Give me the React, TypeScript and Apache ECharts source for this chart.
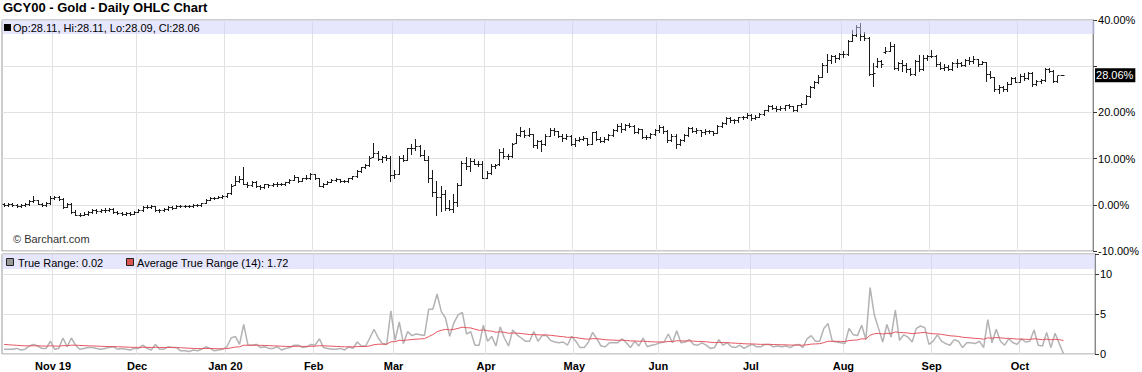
import React, { useEffect, useRef } from "react";
import * as echarts from "echarts";

// Daily OHLC, % change from first close: [open, high, low, close]
const oct2019 = [
  [0.1, 0.4, -0.2, 0.0], [0.0, 0.4, -0.2, 0.1], [0.1, 0.3, -0.3, 0.0], [0.0, 0.2, -0.5, -0.3],
  [-0.3, 0.1, -0.4, -0.1], [-0.1, 0.3, -0.3, 0.1], [0.1, 1.0, 0.0, 0.8], [0.8, 1.9, 0.7, 1.0],
  [1.0, 1.1, 0.1, 0.2], [0.2, 0.4, -0.3, -0.1], [-0.1, 0.5, -0.2, 0.3], [0.3, 1.8, 0.2, 1.5],
];
const nov2019 = [
  [1.5, 1.8, 1.2, 1.6], [1.6, 1.8, 1.1, 1.3], [1.3, 1.4, -0.6, -0.4], [-0.4, 0.4, -0.5, 0.1],
  [0.1, 0.3, -1.7, -1.5], [-1.5, -1.2, -2.3, -2.1], [-2.1, -1.8, -2.4, -2.2], [-2.2, -1.6, -2.3, -2.0],
  [-2.0, -1.3, -2.1, -1.6], [-1.6, -1.0, -1.8, -1.2], [-1.2, -1.0, -1.7, -1.4], [-1.4, -0.9, -1.5, -1.1],
  [-1.1, -0.8, -1.5, -1.2], [-1.2, -0.6, -1.4, -0.9], [-0.9, -0.8, -1.7, -1.5], [-1.5, -1.3, -1.9, -1.7],
  [-1.7, -1.5, -2.2, -2.0], [-2.0, -1.5, -2.1, -1.7], [-1.7, -1.6, -2.1, -2.0], [-2.0, -1.3, -2.0, -1.5],
];
const dec2019 = [
  [-1.5, -0.9, -1.6, -1.2], [-1.2, -0.2, -1.3, -0.4], [-0.4, -0.1, -0.8, -0.5], [-0.5, -0.1, -0.6, -0.3],
  [-0.3, -0.2, -1.4, -1.2], [-1.2, -0.9, -1.5, -1.2], [-1.2, -0.8, -1.4, -1.0], [-1.0, -0.3, -1.2, -0.4],
  [-0.4, -0.2, -1.0, -0.7], [-0.7, 0.0, -0.8, -0.2], [-0.2, 0.0, -0.4, -0.2], [-0.2, 0.0, -0.4, -0.2],
  [-0.2, -0.1, -0.4, -0.3], [-0.3, 0.1, -0.4, 0.0], [0.0, 0.1, -0.3, -0.1], [-0.1, 0.4, -0.2, 0.3],
  [0.3, 1.2, 0.3, 1.1], [1.1, 1.7, 1.0, 1.5], [1.5, 1.7, 1.3, 1.5], [1.5, 1.9, 1.4, 1.7], [1.7, 2.1, 1.5, 1.8],
];
const jan2020 = [
  [1.8, 2.6, 1.7, 2.5], [2.5, 4.4, 2.4, 4.1], [4.2, 6.3, 4.2, 5.1], [5.1, 6.2, 5.0, 5.6],
  [5.6, 8.1, 4.4, 4.6], [4.6, 5.0, 3.9, 4.2], [4.2, 5.1, 4.0, 4.9], [4.9, 5.1, 3.9, 4.0],
  [4.0, 4.3, 3.5, 3.8], [3.8, 4.6, 3.7, 4.4], [4.4, 4.6, 3.9, 4.2], [4.2, 4.7, 4.0, 4.5],
  [4.5, 4.9, 4.0, 4.6], [4.6, 4.8, 4.3, 4.5], [4.5, 5.0, 4.3, 4.9], [4.9, 5.6, 4.8, 5.4],
  [5.4, 6.4, 5.3, 6.0], [6.0, 6.1, 5.0, 5.2], [5.2, 5.9, 5.1, 5.8], [5.8, 6.4, 5.5, 5.7], [5.7, 6.8, 5.6, 6.6],
];
const feb2020 = [
  [6.6, 6.7, 5.6, 5.8], [5.8, 5.9, 4.0, 4.1], [4.1, 4.7, 3.9, 4.5], [4.5, 5.1, 4.4, 5.0],
  [5.0, 5.5, 4.9, 5.4], [5.4, 5.8, 5.2, 5.5], [5.5, 5.6, 4.9, 5.1], [5.1, 5.4, 4.9, 5.1],
  [5.1, 5.9, 5.0, 5.8], [5.8, 6.3, 5.6, 6.2], [6.2, 7.6, 6.1, 7.4], [7.4, 8.2, 7.2, 8.1],
  [8.1, 8.9, 7.9, 8.6], [8.6, 10.5, 8.5, 10.2], [10.4, 13.3, 10.4, 11.3], [11.3, 11.6, 9.6, 9.9],
  [9.9, 10.6, 9.3, 10.3], [10.3, 10.8, 9.6, 10.2], [10.2, 10.5, 5.1, 6.4],
];
const mar2020 = [
  [6.4, 7.6, 5.9, 6.7], [6.7, 10.6, 6.6, 10.2], [10.2, 10.7, 9.4, 9.8], [9.8, 12.4, 9.6, 12.2],
  [12.2, 13.2, 10.9, 12.3], [12.3, 14.3, 11.8, 12.8], [12.8, 13.0, 10.6, 10.7], [10.7, 11.9, 9.6, 9.8],
  [9.8, 10.5, 4.9, 5.9], [5.9, 7.5, 1.9, 2.7], [2.7, 5.2, -2.3, 1.6], [1.6, 4.0, -1.3, 2.4],
  [2.4, 3.3, -1.2, -0.8], [-0.8, 1.1, -1.1, -0.9], [-0.9, 2.3, -1.6, 0.5], [0.5, 4.7, -0.2, 4.2],
  [4.2, 9.4, 4.2, 9.1], [9.1, 10.3, 7.8, 8.3], [8.3, 10.1, 7.3, 9.5], [9.5, 9.9, 8.8, 8.8],
  [8.8, 9.4, 8.3, 8.9], [8.9, 9.4, 5.8, 5.9],
];
const apr2020 = [
  [5.9, 7.3, 5.7, 6.8], [6.8, 8.8, 6.6, 8.3], [8.3, 8.9, 7.9, 8.6], [8.9, 12.0, 8.7, 11.5],
  [11.5, 12.2, 10.2, 10.5], [10.5, 11.0, 10.0, 10.6], [10.6, 13.4, 10.4, 13.1], [13.4, 15.5, 13.3, 15.1],
  [15.1, 16.9, 14.9, 15.9], [15.9, 16.2, 14.6, 15.2], [15.2, 16.6, 15.0, 15.3], [15.3, 15.4, 12.6, 13.0],
  [13.0, 14.0, 12.4, 13.8], [13.8, 14.0, 11.7, 13.1], [13.1, 15.3, 13.0, 15.0], [15.0, 16.6, 14.9, 16.1],
  [16.1, 16.6, 15.1, 15.9], [15.9, 16.0, 14.6, 15.0], [15.0, 15.4, 13.9, 14.5], [14.5, 15.3, 14.2, 15.0],
  [15.0, 15.2, 13.0, 13.2],
];
const may2020 = [
  [13.2, 14.4, 12.8, 14.1], [14.1, 14.6, 13.8, 14.3], [14.3, 14.8, 14.0, 14.4], [14.4, 14.5, 13.0, 13.2],
  [13.2, 15.8, 13.1, 15.7], [15.7, 15.9, 14.0, 14.2], [14.2, 14.6, 13.6, 13.9], [13.9, 14.6, 13.7, 14.2],
  [14.2, 15.4, 14.0, 15.2], [15.2, 16.4, 15.0, 16.2], [16.2, 17.4, 16.0, 17.0], [17.0, 17.6, 15.7, 16.3],
  [16.3, 17.5, 16.1, 17.2], [17.2, 17.6, 16.8, 17.1], [17.1, 17.2, 15.6, 15.8], [15.8, 16.6, 15.6, 16.4],
  [16.4, 16.5, 14.5, 14.7], [14.7, 15.1, 14.2, 14.6], [14.6, 15.6, 14.5, 15.3], [15.3, 16.3, 15.1, 16.1],
];
const jun2020 = [
  [16.1, 17.2, 15.8, 16.8], [16.8, 17.0, 15.5, 15.9], [15.9, 16.1, 13.6, 14.1], [14.1, 15.3, 13.9, 15.0],
  [15.0, 15.3, 12.4, 13.1], [13.1, 14.3, 12.9, 14.0], [14.0, 15.4, 13.9, 15.2], [15.2, 16.8, 15.0, 16.6],
  [16.6, 16.9, 15.7, 16.0], [16.0, 16.6, 15.5, 16.1], [16.1, 16.2, 14.8, 15.8], [15.8, 16.5, 15.4, 15.9],
  [15.9, 16.2, 15.5, 15.9], [15.9, 16.0, 15.2, 15.6], [15.6, 17.3, 15.5, 17.0], [17.0, 17.9, 16.8, 17.7],
  [17.7, 18.9, 17.5, 18.7], [18.7, 18.9, 18.0, 18.3], [18.3, 18.6, 17.8, 18.3], [18.3, 19.1, 18.0, 18.9],
  [18.9, 19.2, 18.5, 18.9], [18.9, 19.8, 18.8, 19.5],
];
const jul2020 = [
  [19.5, 19.6, 18.4, 18.7], [18.7, 19.5, 18.6, 19.1], [19.1, 19.8, 18.9, 19.7], [19.7, 20.6, 19.4, 20.5],
  [20.5, 21.6, 20.4, 21.4], [21.4, 21.7, 20.8, 21.0], [21.0, 21.3, 20.3, 20.7], [20.7, 21.4, 20.5, 21.0],
  [21.0, 21.6, 20.6, 21.5], [21.5, 21.8, 21.0, 21.3], [21.3, 21.4, 20.3, 20.5], [20.5, 21.6, 20.4, 21.5],
  [21.5, 22.0, 21.2, 21.9], [21.9, 23.7, 21.8, 23.6], [23.6, 25.7, 23.4, 25.6], [25.6, 26.9, 25.3, 26.6],
  [26.6, 28.0, 26.4, 27.7], [27.7, 30.8, 27.6, 30.3], [30.3, 32.6, 28.8, 31.4], [31.4, 32.4, 30.8, 32.2],
  [32.2, 32.4, 30.9, 31.8], [31.8, 32.9, 31.5, 32.6],
];
const aug2020 = [
  [32.6, 33.2, 31.9, 32.6], [32.6, 35.7, 32.5, 35.4], [35.4, 37.8, 35.4, 36.7], [36.7, 38.9, 36.6, 38.4],
  [38.4, 39.3, 35.7, 36.6], [36.6, 37.4, 35.6, 36.1], [36.1, 36.4, 28.1, 28.3], [28.3, 30.6, 25.7, 28.5],
  [30.0, 31.7, 29.9, 31.1], [31.1, 31.3, 29.8, 30.5], [33.0, 34.2, 32.8, 33.2], [33.2, 35.3, 33.2, 34.4],
  [34.4, 34.9, 29.4, 29.6], [29.6, 30.9, 29.2, 30.6], [30.6, 31.3, 28.9, 30.2], [30.2, 30.8, 28.7, 29.4],
  [29.4, 29.6, 28.1, 28.3], [28.3, 31.4, 28.2, 31.1], [31.1, 32.4, 28.9, 29.5], [29.5, 32.4, 29.1, 31.8],
  [31.8, 32.5, 31.3, 32.1],
];
const sep2020 = [
  [32.1, 33.5, 31.9, 32.2], [32.2, 32.4, 30.0, 30.4], [30.4, 30.9, 29.3, 29.6], [29.6, 30.5, 29.2, 29.8],
  [29.8, 30.2, 29.1, 29.5], [29.5, 30.9, 29.1, 30.6], [30.6, 31.5, 29.9, 30.7], [30.7, 30.9, 30.1, 30.2],
  [30.2, 31.5, 30.1, 31.3], [31.3, 31.9, 30.5, 31.2], [31.2, 32.1, 30.8, 31.5], [31.5, 31.6, 30.0, 30.5],
  [30.5, 31.2, 30.4, 30.9], [30.9, 31.0, 26.7, 28.3], [28.3, 28.9, 27.5, 27.6], [27.6, 27.7, 24.6, 25.0],
  [25.0, 25.9, 24.3, 25.4], [25.4, 25.8, 24.7, 25.0], [25.0, 26.6, 24.7, 26.2], [26.2, 27.6, 26.2, 27.4],
  [27.4, 27.7, 26.5, 26.6],
];
const oct2020 = [
  [26.6, 28.4, 26.5, 27.9], [27.9, 28.5, 27.0, 27.5], [27.5, 28.8, 27.2, 28.5], [28.5, 28.8, 25.8, 26.1],
  [26.1, 27.0, 25.9, 26.7], [26.7, 27.3, 26.3, 27.0], [27.0, 29.6, 26.9, 29.4], [29.4, 29.6, 28.8, 29.0],
  [29.0, 29.2, 26.6, 26.9], [26.9, 27.9, 26.6, 28.11], [28.11, 28.11, 28.09, 28.06],
];

const startDate = [2019, 9, 16];
const holidays = [
  "2019-11-28", "2019-12-25", "2020-01-01", "2020-01-20", "2020-02-17",
  "2020-04-10", "2020-05-25", "2020-07-03", "2020-09-07",
];
const totalSlots = 260;
const monthNames = ["Jan", "Feb", "Mar", "Apr", "May", "Jun", "Jul", "Aug", "Sep", "Oct", "Nov", "Dec"];
const atrSeed = 1.25;
const atrLabel = "1.72";
const title = "GCY00 - Gold - Daily OHLC Chart";

const FONT = '"Liberation Sans", Arial, Helvetica, sans-serif';

function buildDates(): string[] {
  const out: string[] = [];
  const d = new Date(Date.UTC(startDate[0], startDate[1], startDate[2]));
  while (out.length < totalSlots) {
    const wd = d.getUTCDay();
    const iso = d.toISOString().slice(0, 10);
    if (wd !== 0 && wd !== 6 && holidays.indexOf(iso) < 0) out.push(iso);
    d.setUTCDate(d.getUTCDate() + 1);
  }
  return out;
}

export default function App() {
  const ref = useRef<HTMLDivElement>(null);

  useEffect(() => {
    document.body.style.margin = "0";
    const el = ref.current;
    if (!el) return;
    const chart = echarts.init(el, undefined, { renderer: "svg" });

    const bars = [
      ...oct2019, ...nov2019, ...dec2019, ...jan2020, ...feb2020, ...mar2020, ...apr2020,
      ...may2020, ...jun2020, ...jul2020, ...aug2020, ...sep2020, ...oct2020,
    ];
    const dates = buildDates();
    const monthStart = dates.map((d, i) => i > 0 && d.slice(5, 7) !== dates[i - 1].slice(5, 7));
    let firstLabel = -1;
    monthStart.forEach((m, i) => { if (m && firstLabel < 0) firstLabel = i; });
    const labelFor = (i: number) => {
      const d = dates[i];
      const m = parseInt(d.slice(5, 7), 10) - 1;
      const name = monthNames[m];
      return m === 0 || i === firstLabel ? `${name} ${d.slice(2, 4)}` : name;
    };

    const tr: number[] = bars.map((b, i) => {
      if (i === 0) return b[1] - b[2];
      const pc = bars[i - 1][3];
      return Math.max(b[1], pc) - Math.min(b[2], pc);
    });
    const atr: number[] = [];
    let a = atrSeed;
    tr.forEach((t) => { a = (a * 13 + t) / 14; atr.push(+a.toFixed(3)); });

    const last = bars[bars.length - 1];
    const lastClose = last[3];
    const legendText = `Op:${last[0].toFixed(2)}, Hi:${last[1].toFixed(2)}, Lo:${last[2].toFixed(2)}, Cl:${last[3].toFixed(2)}`;
    const trText = `True Range: ${tr[tr.length - 1].toFixed(2)}`;
    const atrText = `Average True Range (14): ${atrLabel}`;

    const gridLine = { lineStyle: { color: "#e2e2e2", width: 1 } };
    const intervalFn = (i: number) => monthStart[i];

    const option: any = {
      animation: false,
      textStyle: { fontFamily: FONT },
      grid: [
        { left: 2, right: 47, top: 20, height: 231, show: true, borderColor: "#999", borderWidth: 1 },
        { left: 2, right: 47, top: 254, height: 100, show: true, borderColor: "#999", borderWidth: 1 },
      ],
      xAxis: [
        {
          type: "category", gridIndex: 0, data: dates, boundaryGap: true,
          axisLine: { show: false }, axisTick: { show: false }, axisLabel: { show: false },
          splitLine: { show: true, interval: intervalFn, ...gridLine },
        },
        {
          type: "category", gridIndex: 1, data: dates, boundaryGap: true,
          axisLine: { show: false }, axisTick: { show: false },
          axisLabel: {
            interval: intervalFn, formatter: (_v: string, i: number) => labelFor(i),
            fontSize: 11, fontWeight: "bold", color: "#000", margin: 6, fontFamily: FONT,
            padding: [0, 3, 0, 0],
          },
          splitLine: { show: true, interval: intervalFn, ...gridLine },
        },
      ],
      yAxis: [
        {
          type: "value", gridIndex: 0, position: "right", min: -10, max: 40, interval: 10,
          axisLine: { show: true, lineStyle: { color: "#888" } },
          axisTick: { show: true, length: 4, lineStyle: { color: "#333" } },
          axisLabel: {
            formatter: (v: number) => (Math.abs(v - lastClose) < 4 ? "" : v.toFixed(2) + "%"),
            fontSize: 11, color: "#000", margin: 5, fontFamily: FONT,
          },
          splitLine: gridLine,
        },
        {
          type: "value", gridIndex: 1, position: "right", min: 0, max: 12.5, interval: 5,
          axisLine: { show: true, lineStyle: { color: "#888" } },
          axisTick: { show: true, length: 4, lineStyle: { color: "#333" } },
          axisLabel: {
            formatter: (v: number) => (v % 5 === 0 ? String(v) : ""),
            fontSize: 11, color: "#000", margin: 5, fontFamily: FONT,
          },
          splitLine: gridLine,
        },
      ],
      series: [
        {
          type: "custom", xAxisIndex: 0, yAxisIndex: 0,
          data: bars.map((b, i) => [i, b[0], b[1], b[2], b[3]]),
          encode: { x: 0, y: [1, 2, 3, 4] },
          renderItem: (_p: any, api: any) => {
            const i = api.value(0);
            const o = api.coord([i, api.value(1)]);
            const h = api.coord([i, api.value(2)]);
            const l = api.coord([i, api.value(3)]);
            const c = api.coord([i, api.value(4)]);
            const x = Math.round(o[0]) + 0.5;
            const yo = Math.round(o[1]) + 0.5;
            const yc = Math.round(c[1]) + 0.5;
            const yh = Math.round(h[1]);
            const yl = Math.max(Math.round(l[1]) + 1, yh + 1);
            const style = { stroke: "#1a1a1a", lineWidth: 1 };
            return {
              type: "group",
              children: [
                { type: "line", shape: { x1: x, y1: yh, x2: x, y2: yl }, style },
                { type: "line", shape: { x1: x - 2, y1: yo, x2: x, y2: yo }, style },
                { type: "line", shape: { x1: x, y1: yc, x2: x + 2, y2: yc }, style },
              ],
            };
          },
          z: 2,
        },
        {
          type: "line", xAxisIndex: 0, yAxisIndex: 0, data: bars.map((b) => b[3]),
          symbol: "none", silent: true, lineStyle: { color: "transparent", width: 0 }, z: 5,
          markLine: {
            symbol: "none", silent: true, animation: false,
            lineStyle: { color: "transparent", width: 0, type: "solid" },
            label: {
              show: true, position: "end", distance: 2, formatter: lastClose.toFixed(2) + "%",
              color: "#fff", backgroundColor: "#000", padding: [2, 2, 1, 1], fontSize: 11,
              fontFamily: FONT, opacity: 1,
            },
            data: [{ yAxis: lastClose }],
          },
        },
        {
          type: "line", xAxisIndex: 1, yAxisIndex: 1, data: tr, symbol: "none", silent: true,
          lineStyle: { color: "#b3b3b3", width: 1.5 }, z: 2,
        },
        {
          type: "line", xAxisIndex: 1, yAxisIndex: 1, data: atr, symbol: "none", silent: true,
          lineStyle: { color: "#e5565f", width: 1 }, z: 3,
        },
      ],
      graphic: [
        { type: "text", x: 3, y: 1, z: 100, style: { text: title, font: `bold 13px ${FONT}`, fill: "#000" } },
        { type: "rect", z: 100, shape: { x: 2.5, y: 20.5, width: 1092.5, height: 13.5 }, style: { fill: "rgba(205,205,250,0.5)" } },
        { type: "rect", z: 101, shape: { x: 4, y: 24, width: 7, height: 7 }, style: { fill: "#000" } },
        { type: "text", x: 13, y: 27.5, z: 101, style: { text: legendText, font: `11px ${FONT}`, fill: "#000", verticalAlign: "middle" } },
        { type: "text", x: 13, y: 238.5, z: 101, style: { text: "© Barchart.com", font: `11px ${FONT}`, fill: "#333", verticalAlign: "middle" } },
        { type: "rect", z: 100, shape: { x: 2.5, y: 254.5, width: 1092.5, height: 14.5 }, style: { fill: "rgba(205,205,250,0.5)" } },
        { type: "rect", z: 101, shape: { x: 6.5, y: 258.5, width: 7, height: 7 }, style: { fill: "#999", stroke: "#222", lineWidth: 1 } },
        { type: "text", x: 18, y: 262.5, z: 101, style: { text: trText, font: `11px ${FONT}`, fill: "#000", verticalAlign: "middle" } },
        { type: "rect", z: 101, shape: { x: 126.5, y: 258.5, width: 7, height: 7 }, style: { fill: "#d9534f", stroke: "#222", lineWidth: 1 } },
        { type: "text", x: 137, y: 262.5, z: 101, style: { text: atrText, font: `11px ${FONT}`, fill: "#000", verticalAlign: "middle" } },
      ],
    };

    chart.setOption(option);
    return () => chart.dispose();
  }, []);

  return <div ref={ref} style={{ width: 1142, height: 372 }} />;
}
